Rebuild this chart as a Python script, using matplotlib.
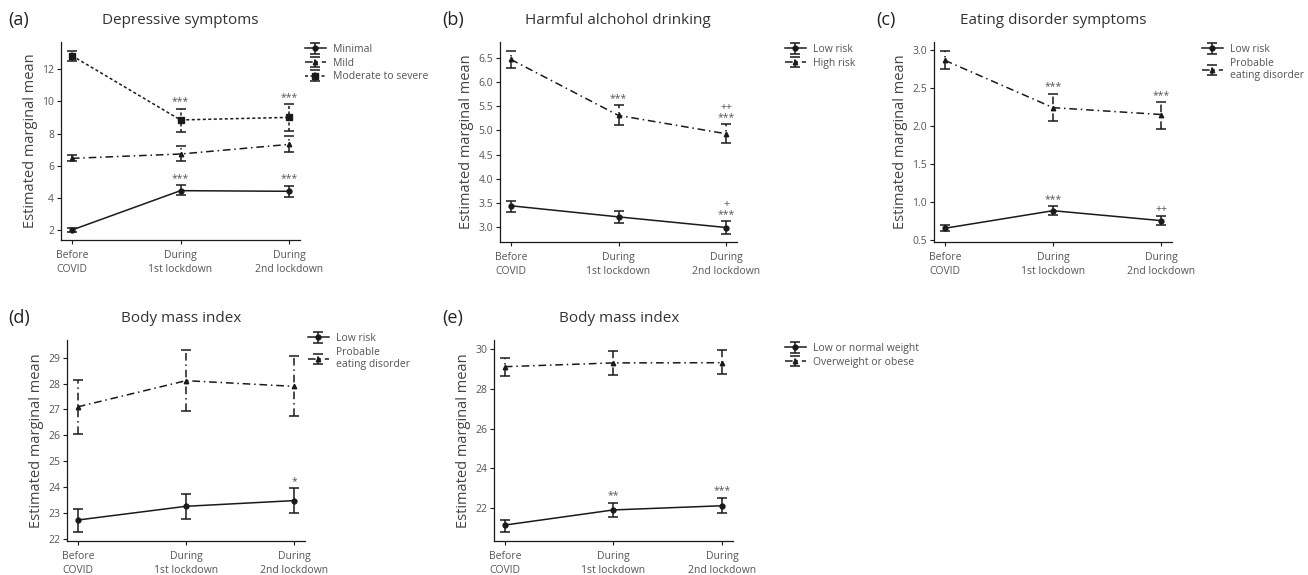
import matplotlib
matplotlib.use("Agg")
import matplotlib.pyplot as plt
import numpy as np

plt.rcParams['font.family'] = ['Open Sans', 'DejaVu Sans']

# time points shared by all panels
periods = ["Before\nCOVID", "During\n1st lockdown", "During\n2nd lockdown"]

# (a) depressive symptoms
a_minimal = [2.0, 4.45, 4.41]
a_minimal_lo = [1.85, 4.16, 4.07]
a_minimal_hi = [2.12, 4.78, 4.76]
a_mild = [6.46, 6.73, 7.33]
a_mild_lo = [6.27, 6.32, 6.88]
a_mild_hi = [6.65, 7.25, 7.85]
a_mod = [12.85, 8.85, 9.01]
a_mod_lo = [12.52, 8.10, 8.16]
a_mod_hi = [13.16, 9.55, 9.84]

# (b) harmful alcohol drinking
b_low = [3.44, 3.21, 2.99]
b_low_lo = [3.32, 3.08, 2.86]
b_low_hi = [3.54, 3.33, 3.12]
b_high = [6.47, 5.31, 4.93]
b_high_lo = [6.30, 5.11, 4.74]
b_high_hi = [6.64, 5.52, 5.13]

# (c) eating disorder symptoms
c_low = [0.66, 0.89, 0.76]
c_low_lo = [0.62, 0.83, 0.70]
c_low_hi = [0.70, 0.95, 0.82]
c_ed = [2.86, 2.24, 2.15]
c_ed_lo = [2.74, 2.06, 1.96]
c_ed_hi = [2.98, 2.42, 2.31]

# (d) body mass index by eating disorder group
d_low = [22.73, 23.26, 23.48]
d_low_lo = [22.28, 22.76, 22.99]
d_low_hi = [23.16, 23.74, 23.96]
d_ed = [27.10, 28.11, 27.89]
d_ed_lo = [26.05, 26.95, 26.73]
d_ed_hi = [28.15, 29.30, 29.08]

# (e) body mass index by weight group
e_norm = [21.16, 21.92, 22.13]
e_norm_lo = [20.83, 21.58, 21.75]
e_norm_hi = [21.40, 22.28, 22.54]
e_over = [29.11, 29.30, 29.31]
e_over_lo = [28.66, 28.69, 28.76]
e_over_hi = [29.53, 29.90, 29.93]

W, H = 1308, 575
INK = "#1a1a1a"
GREY = "#555555"
SOLID = "-"
DASHDOT = (0, (5, 2.5, 1, 2.5))
DOTTED = (0, (2, 1.6))


def px_axes(fig, left, top, right, bottom):
    return fig.add_axes([left / W, 1 - bottom / H, (right - left) / W, (bottom - top) / H])


def series(ax, y, lo, hi, ls, marker, ms, label):
    x = np.arange(len(y))
    y = np.array(y)
    err = [y - np.array(lo), np.array(hi) - y]
    eb = ax.errorbar(x, y, yerr=err, color=INK, lw=1.1, ls=ls, marker=marker, ms=ms,
                     capsize=3.6, capthick=1.1, elinewidth=1.1, label=label)
    eb[2][0].set_linestyle(ls)
    return eb


def note(ax, x, y, txt):
    ax.annotate(txt, (x, y), xytext=(0, 1), textcoords="offset points", ha="center",
                va="bottom", fontsize=7.5, color=GREY, linespacing=0.9)


def style(ax, ylim, yticks, fmt, letter, title, tpos):
    ax.set_xlim(-0.1, 2.1)
    ax.set_ylim(*ylim)
    ax.set_xticks(range(3))
    ax.set_xticklabels(periods, fontsize=7.5, color=GREY, linespacing=1.3)
    ax.set_yticks(yticks)
    ax.set_yticklabels([fmt % v for v in yticks], fontsize=7.5, color=GREY)
    ax.tick_params(length=3, width=0.8, color=INK, pad=2)
    ax.tick_params(axis="x", pad=4.5)
    for s in ("top", "right"):
        ax.spines[s].set_visible(False)
    for s in ("left", "bottom"):
        ax.spines[s].set_linewidth(0.9)
        ax.spines[s].set_color(INK)
    ax.set_ylabel("Estimated marginal mean", fontsize=10.5, color="#444444", labelpad=3)
    fig = ax.figure
    fig.text(tpos[0] / W, 1 - tpos[1] / H, letter, fontsize=13, color="#222222", va="center")
    fig.text(tpos[2] / W, 1 - tpos[1] / H, title, fontsize=11, color="#333333",
             va="center", ha="center")


def legend(ax, x, y):
    ax.legend(loc="upper left", bbox_to_anchor=(x / W, 1 - y / H),
              bbox_transform=ax.figure.transFigure, frameon=False, fontsize=7.5,
              handlelength=2.0, handletextpad=0.7, labelspacing=0.25, borderpad=0,
              borderaxespad=0, labelcolor=GREY)


def main():
    fig = plt.figure(figsize=(W / 100, H / 100), dpi=100)

    # (a)
    ax = px_axes(fig, 61, 42, 300, 240)
    series(ax, a_minimal, a_minimal_lo, a_minimal_hi, SOLID, "o", 3.5, "Minimal")
    series(ax, a_mild, a_mild_lo, a_mild_hi, DASHDOT, "^", 3.2, "Mild")
    series(ax, a_mod, a_mod_lo, a_mod_hi, DOTTED, "s", 5, "Moderate to severe")
    for i in (1, 2):
        note(ax, i, a_mod_hi[i], "***")
        note(ax, i, a_minimal_hi[i], "***")
    style(ax, (1.38, 13.7), [2, 4, 6, 8, 10, 12], "%d", "(a)", "Depressive symptoms", (8, 20, 180))
    legend(ax, 305, 44)

    # (b)
    ax = px_axes(fig, 500, 42, 737, 242)
    series(ax, b_low, b_low_lo, b_low_hi, SOLID, "o", 3.5, "Low risk")
    series(ax, b_high, b_high_lo, b_high_hi, DASHDOT, "^", 3.2, "High risk")
    note(ax, 1, b_high_hi[1], "***")
    note(ax, 2, b_high_hi[2], "++\n***")
    note(ax, 2, b_low_hi[2], "+\n***")
    style(ax, (2.69, 6.83), [3.0, 3.5, 4.0, 4.5, 5.0, 5.5, 6.0, 6.5], "%.1f", "(b)",
          "Harmful alchohol drinking", (442, 20, 618))
    legend(ax, 785, 44)

    # (c)
    ax = px_axes(fig, 934, 42, 1172, 242)
    series(ax, c_low, c_low_lo, c_low_hi, SOLID, "o", 3.5, "Low risk")
    series(ax, c_ed, c_ed_lo, c_ed_hi, DASHDOT, "^", 3.2, "Probable\neating disorder")
    note(ax, 1, c_ed_hi[1], "***")
    note(ax, 2, c_ed_hi[2], "***")
    note(ax, 1, c_low_hi[1], "***")
    note(ax, 2, c_low_hi[2], "++")
    style(ax, (0.48, 3.1), [0.5, 1.0, 1.5, 2.0, 2.5, 3.0], "%.1f", "(c)",
          "Eating disorder symptoms", (876, 20, 1053))
    legend(ax, 1202, 44)

    # (d)
    ax = px_axes(fig, 67, 340, 305, 541)
    series(ax, d_low, d_low_lo, d_low_hi, SOLID, "o", 3.5, "Low risk")
    series(ax, d_ed, d_ed_lo, d_ed_hi, DASHDOT, "^", 3.2, "Probable\neating disorder")
    note(ax, 2, d_low_hi[2], "*")
    style(ax, (21.92, 29.68), list(range(22, 30)), "%d", "(d)", "Body mass index", (8, 318, 181))
    legend(ax, 308, 333)

    # (e)
    ax = px_axes(fig, 494, 340, 733, 541)
    series(ax, e_norm, e_norm_lo, e_norm_hi, SOLID, "o", 3.5, "Low or normal weight")
    series(ax, e_over, e_over_lo, e_over_hi, DASHDOT, "^", 3.2, "Overweight or obese")
    note(ax, 1, e_norm_hi[1], "**")
    note(ax, 2, e_norm_hi[2], "***")
    style(ax, (20.36, 30.45), [22, 24, 26, 28, 30], "%d", "(e)", "Body mass index", (442, 318, 619))
    legend(ax, 785, 343)

    fig.savefig("out.png", dpi=100)


if __name__ == "__main__":
    main()
